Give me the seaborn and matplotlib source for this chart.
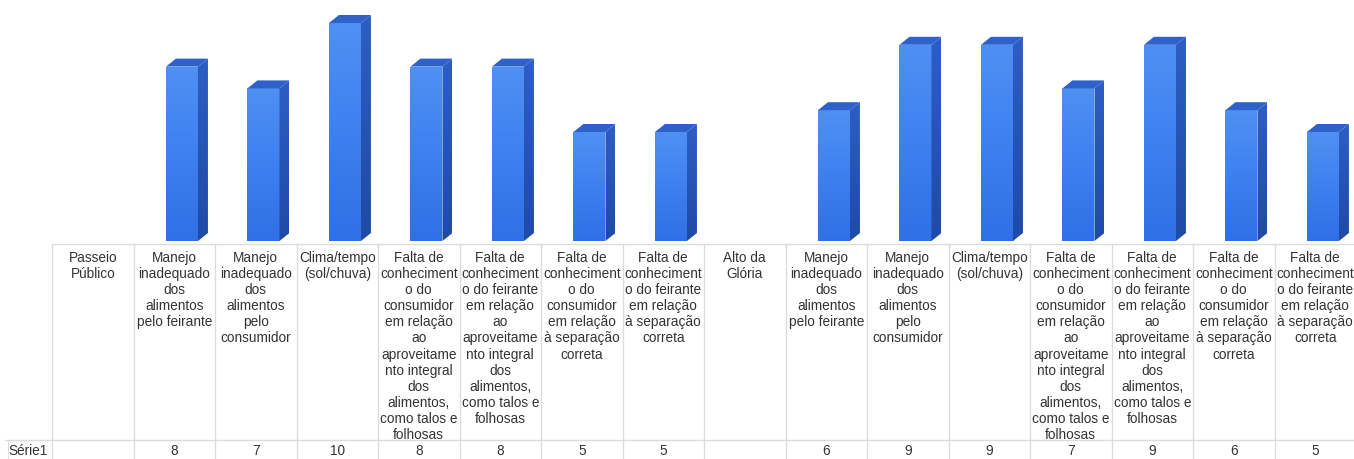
import numpy as np
import pandas as pd
import matplotlib
matplotlib.use("Agg")
import matplotlib.pyplot as plt
from matplotlib.patches import Polygon
from matplotlib.colors import LinearSegmentedColormap
import seaborn as sns

# ---------------- data ----------------
categorias = [
    "Passeio\nPúblico",
    "Manejo\ninadequado\ndos\nalimentos\npelo feirante",
    "Manejo\ninadequado\ndos\nalimentos\npelo\nconsumidor",
    "Clima/tempo\n(sol/chuva)",
    "Falta de\nconheciment\no do\nconsumidor\nem relação\nao\naproveitame\nnto integral\ndos\nalimentos,\ncomo talos e\nfolhosas",
    "Falta de\nconheciment\no do feirante\nem relação\nao\naproveitame\nnto integral\ndos\nalimentos,\ncomo talos e\nfolhosas",
    "Falta de\nconheciment\no do\nconsumidor\nem relação\nà separação\ncorreta",
    "Falta de\nconheciment\no do feirante\nem relação\nà separação\ncorreta",
    "Alto da\nGlória",
    "Manejo\ninadequado\ndos\nalimentos\npelo feirante",
    "Manejo\ninadequado\ndos\nalimentos\npelo\nconsumidor",
    "Clima/tempo\n(sol/chuva)",
    "Falta de\nconheciment\no do\nconsumidor\nem relação\nao\naproveitame\nnto integral\ndos\nalimentos,\ncomo talos e\nfolhosas",
    "Falta de\nconheciment\no do feirante\nem relação\nao\naproveitame\nnto integral\ndos\nalimentos,\ncomo talos e\nfolhosas",
    "Falta de\nconheciment\no do\nconsumidor\nem relação\nà separação\ncorreta",
    "Falta de\nconheciment\no do feirante\nem relação\nà separação\ncorreta",
]
valores = [np.nan, 8, 7, 10, 8, 8, 5, 5, np.nan, 6, 9, 9, 7, 9, 6, 5]
serie_nome = "Série1"

# ---------------- layout ----------------
W, H = 1354, 460
DPI = 100
left_px = 52
col_w = 81.5
n = len(categorias)
base_px = 242          # bar baseline (pixels from top)
unit_px = 21.8         # pixels per value unit

sns.set_theme(style="white")
plt.rcParams["font.family"] = ["Liberation Sans", "DejaVu Sans"]

fig = plt.figure(figsize=(W / DPI, H / DPI), dpi=DPI)
fig.patch.set_facecolor("white")

ax = fig.add_axes([left_px / W, (H - base_px) / H, n * col_w / W, base_px / H])
df = pd.DataFrame({"pos": list(range(n)), "valor": valores})
df_valid = df.dropna()
sns.barplot(data=df_valid, x="pos", y="valor", order=list(range(n)),
            width=32 / col_w, color="#3a7ff0", errorbar=None, ax=ax,
            linewidth=0, saturation=1)
ax.set_xlim(-0.5, n - 0.5)
ax.set_ylim(0, base_px / unit_px)
ax.axis("off")

shift = 7.7 / col_w
dx = 10 / col_w
dy = 8 / unit_px

front_cmap = LinearSegmentedColormap.from_list("front", ["#5090f4", "#3d80f0", "#2f70e6"])
side_cmap = LinearSegmentedColormap.from_list("side", ["#2d5ec4", "#1f4aa6"])
grad = np.linspace(0, 1, 256).reshape(-1, 1)

for p in list(ax.patches):
    h = p.get_height()
    if not np.isfinite(h) or h <= 0:
        continue
    p.set_x(p.get_x() + shift)
    x0 = p.get_x()
    x1 = x0 + p.get_width()
    p.set_facecolor("none")
    # front gradient (light at top)
    im = ax.imshow(grad, cmap=front_cmap, aspect="auto",
                   extent=(x0, x1, 0, h), zorder=3, interpolation="bicubic")
    im.set_clip_path(p)
    # side face
    side = Polygon([(x1, 0), (x1 + dx, dy), (x1 + dx, h + dy), (x1, h)],
                   closed=True, facecolor="none", edgecolor="none", zorder=3)
    ax.add_patch(side)
    ims = ax.imshow(grad, cmap=side_cmap, aspect="auto",
                    extent=(x1, x1 + dx, 0, h + dy), zorder=3, interpolation="bicubic")
    ims.set_clip_path(side)
    # top face
    top = Polygon([(x0, h), (x0 + dx, h + dy), (x1 + dx, h + dy), (x1, h)],
                  closed=True, facecolor="#2f62c8", edgecolor="none", zorder=4,
                  clip_on=False)
    ax.add_patch(top)

# ---------------- data table ----------------
tab = fig.add_axes([0, 0, 1, 1])
tab.set_xlim(0, W)
tab.set_ylim(H, 0)
tab.axis("off")
tab.patch.set_alpha(0)

grid_c = "#dcdcdc"
text_c = "#333333"
top_y = 245
mid_y = 441
bot_y = 460
right_px = left_px + n * col_w
tab.plot([left_px, right_px], [top_y, top_y], color=grid_c, lw=1)
tab.plot([5, right_px], [mid_y, mid_y], color=grid_c, lw=1)
for i in range(n + 1):
    xb = left_px + i * col_w
    tab.plot([xb, xb], [top_y, bot_y], color=grid_c, lw=1)
tab.plot([8, 8], [mid_y, bot_y], color=grid_c, lw=0.8)

fs = 9.8
for i, (lab, v) in enumerate(zip(categorias, valores)):
    xc = left_px + (i + 0.5) * col_w
    tab.text(xc, 251, lab, ha="center", va="top", fontsize=fs,
             color=text_c, linespacing=1.19)
    if np.isfinite(v):
        tab.text(xc, 451, f"{int(v)}", ha="center", va="center",
                 fontsize=fs, color=text_c)

tab.text(8, 451, serie_nome, ha="left", va="center", fontsize=fs, color=text_c)

fig.savefig("out.png", dpi=DPI, facecolor="white")
